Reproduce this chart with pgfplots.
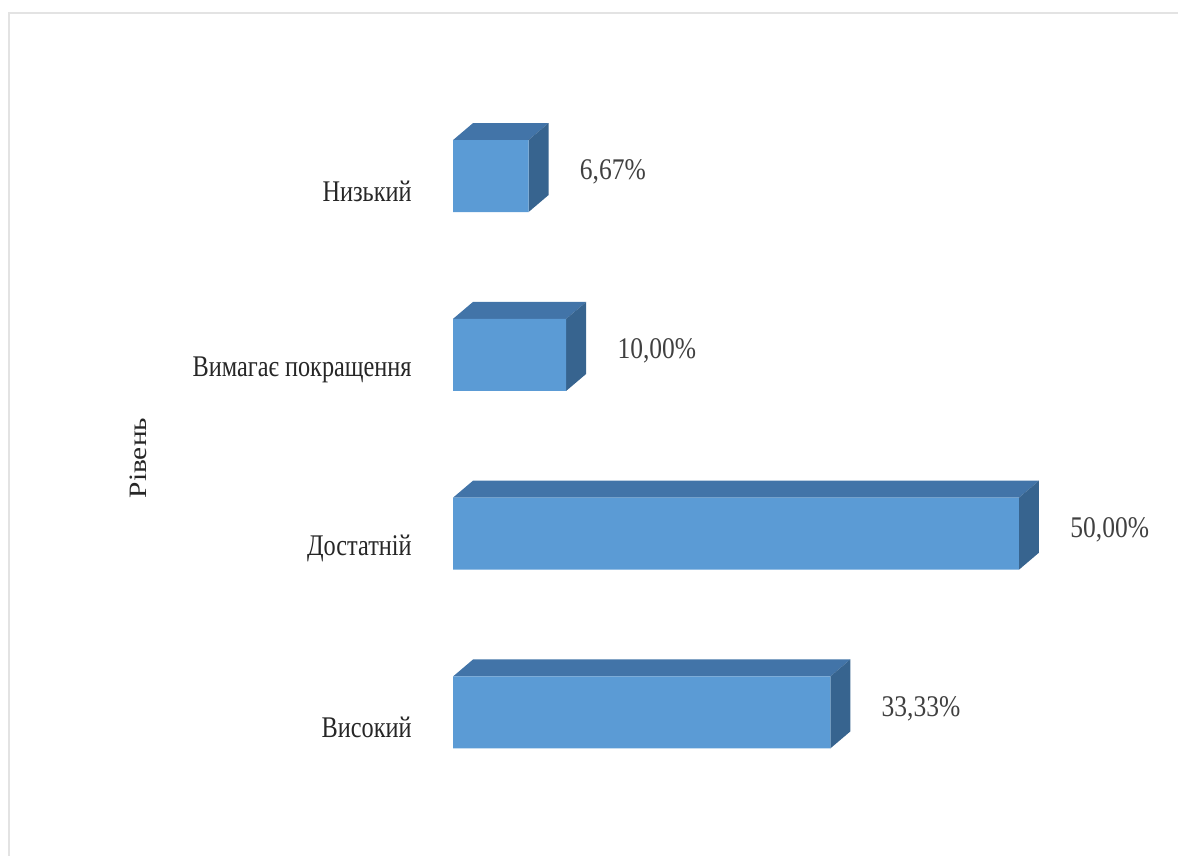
\documentclass[border=0pt]{standalone}
\usepackage{fontspec}
\setmainfont{Liberation Serif}
\usepackage{pgfplots}
\pgfplotsset{compat=1.18}
\definecolor{barfront}{HTML}{5B9BD5}
\definecolor{bartop}{HTML}{4274A8}
\definecolor{barside}{HTML}{37648F}
\definecolor{valtext}{HTML}{404040}
\definecolor{cattext}{HTML}{262626}
\begin{document}
\begin{tikzpicture}
\useasboundingbox (0,0) rectangle (589pt,428pt);
\draw[gray!22, line width=1.2pt] (4.6pt,0) -- (4.6pt,421.6pt) -- (589pt,421.6pt);
\begin{axis}[
  at={(0,0)}, anchor=south west,
  scale only axis, width=589pt, height=428pt,
  xmin=-40.02, xmax=64.05, ymin=-0.8026, ymax=3.985,
  hide axis, clip=false,
  font=\fontsize{15}{18}\selectfont,
]
% top faces
\addplot[fill=bartop, draw=none, forget plot] coordinates {(0,0.2013) (33.33,0.2013) (35.097,0.2964) (1.767,0.2964)} --cycle;
\addplot[fill=bartop, draw=none, forget plot] coordinates {(0,1.2013) (50,1.2013) (51.767,1.2964) (1.767,1.2964)} --cycle;
\addplot[fill=bartop, draw=none, forget plot] coordinates {(0,2.2013) (10,2.2013) (11.767,2.2964) (1.767,2.2964)} --cycle;
\addplot[fill=bartop, draw=none, forget plot] coordinates {(0,3.2013) (6.67,3.2013) (8.437,3.2964) (1.767,3.2964)} --cycle;
% side faces
\addplot[fill=barside, draw=none, forget plot] coordinates {(33.33,-0.2013) (35.097,-0.1062) (35.097,0.2964) (33.33,0.2013)} --cycle;
\addplot[fill=barside, draw=none, forget plot] coordinates {(50,0.7987) (51.767,0.8938) (51.767,1.2964) (50,1.2013)} --cycle;
\addplot[fill=barside, draw=none, forget plot] coordinates {(10,1.7987) (11.767,1.8938) (11.767,2.2964) (10,2.2013)} --cycle;
\addplot[fill=barside, draw=none, forget plot] coordinates {(6.67,2.7987) (8.437,2.8938) (8.437,3.2964) (6.67,3.2013)} --cycle;
% front faces
\addplot[xbar, bar width=0.4026, fill=barfront, draw=none,
  point meta=explicit symbolic,
  nodes near coords={\scalebox{0.85}[1]{\pgfplotspointmeta}},
  nodes near coords style={anchor=west, inner sep=0pt, xshift=25.5pt, yshift=2pt, text=valtext, font=\fontsize{15}{18}\selectfont},
] coordinates {(33.33,0) [33,33\%] (50,1) [50,00\%] (10,2) [10,00\%] (6.67,3) [6,67\%]};
% category labels
\node[anchor=east, inner sep=0pt, text=cattext] at (axis cs:-3.62,-0.085) {\scalebox{0.81}[1]{Високий}};
\node[anchor=east, inner sep=0pt, text=cattext] at (axis cs:-3.62,0.915) {\scalebox{0.81}[1]{Достатній}};
\node[anchor=east, inner sep=0pt, text=cattext] at (axis cs:-3.62,1.915) {\scalebox{0.81}[1]{Вимагає покращення}};
\node[anchor=east, inner sep=0pt, text=cattext] at (axis cs:-3.62,2.915) {\scalebox{0.81}[1]{Низький}};
\node[rotate=90, inner sep=0pt, text=cattext, font=\fontsize{14.7}{18}\selectfont] at (axis cs:-27.83,1.423) {\scalebox{1}[0.85]{Рівень}};
\end{axis}
\end{tikzpicture}
\end{document}
